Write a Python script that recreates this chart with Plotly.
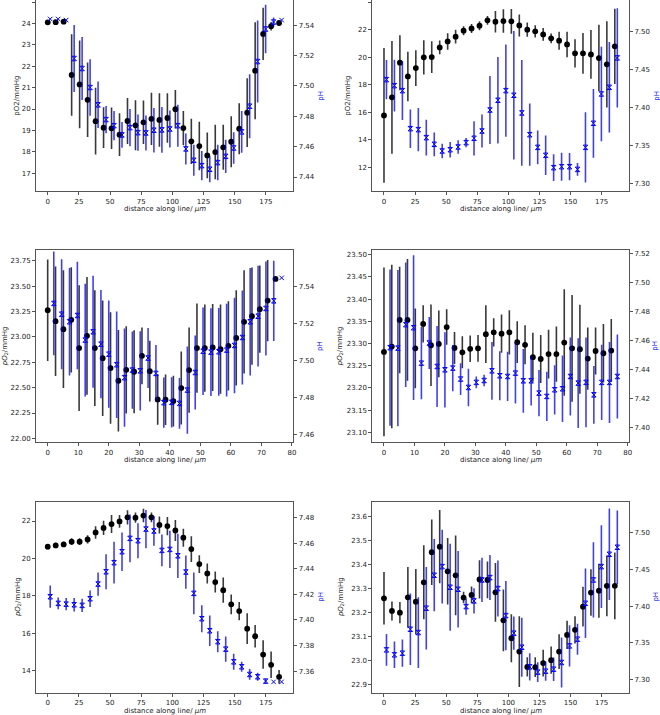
import plotly.graph_objects as go

W, H = 660, 715

# distances along the line (um) for the two line lengths
dist_long = [0, 6.4, 12.8, 19.2, 25.6, 32.0, 38.4, 44.8, 51.2, 57.6, 64.0, 70.4, 76.8, 83.2, 89.6,
             96.0, 102.4, 108.8, 115.2, 121.6, 128.0, 134.4, 140.8, 147.2, 153.6, 160.0, 166.4, 172.8, 179.2, 185.6]
dist_short = [0, 2.57, 5.15, 7.72, 10.29, 12.87, 15.44, 18.01, 20.59, 23.16, 25.73, 28.31, 30.88, 33.45, 36.03,
              38.6, 41.17, 43.75, 46.32, 48.89, 51.47, 54.04, 56.61, 59.19, 61.76, 64.33, 66.91, 69.48, 72.05, 74.63]
ph_shift = 2.0

# panel a (top left)
po2_a = [24.05, 24.06, 24.08, 21.59, 21.15, 20.43, 19.43, 19.13, 19.10, 18.80, 19.44, 19.24, 19.38, 19.54, 19.49,
         19.58, 19.99, 19.11, 18.49, 18.27, 17.83, 17.99, 18.21, 18.47, 19.08, 19.83, 21.79, 23.51, 23.87, 24.02]
po2_a_err = [0, 0, 0, 1.9, 2.05, 1.74, 1.56, 0.95, 0.97, 1.0, 1.08, 1.17, 1.02, 1.22, 1.25,
             1.16, 0.9, 0.8, 1.06, 1.13, 1.07, 1.27, 1.05, 1.19, 1.19, 1.61, 2.27, 1.22, 0.2, 0]
ph_a = [7.544, 7.544, 7.5433, 7.518, 7.5114, 7.4989, 7.4875, 7.4778, 7.4738, 7.4677, 7.4725, 7.4692, 7.469, 7.4708, 7.471,
        7.4716, 7.4738, 7.4585, 7.451, 7.4475, 7.4451, 7.4495, 7.4536, 7.4591, 7.4697, 7.4866, 7.516, 7.5374, 7.542, 7.5433]
ph_a_err = [0, 0, 0, 0.022, 0.0207, 0.0186, 0.0153, 0.009, 0.0096, 0.0085, 0.0122, 0.0119, 0.0115, 0.0147, 0.015,
            0.0122, 0.0138, 0.0102, 0.0102, 0.0096, 0.0086, 0.0117, 0.011, 0.0104, 0.0138, 0.0211, 0.027, 0.016, 0.003, 0]

# panel b (top right)
po2_b = [15.76, 17.07, 19.59, 18.59, 19.2, 19.98, 20.0, 20.7, 21.14, 21.48, 21.92, 22.08, 22.28, 22.67, 22.57,
         22.62, 22.6, 22.3, 21.99, 21.87, 21.65, 21.36, 21.19, 20.92, 20.27, 20.27, 20.19, 19.93, 19.47, 20.78]
po2_b_err = [4.9, 4.1, 2.0, 1.8, 1.3, 1.25, 1.15, 0.5, 0.6, 0.5, 0.33, 0.33, 0.33, 0.32, 0.78,
             0.85, 0.9, 0.8, 0.52, 0.45, 0.46, 0.36, 0.65, 0.93, 1.03, 1.48, 1.77, 2.42, 3.14, 2.73]
ph_b = [7.4371, 7.4292, 7.4226, 7.3725, 7.3712, 7.3607, 7.3519, 7.3431, 7.3448, 7.3484, 7.3541, 7.3598, 7.3694, 7.3971, 7.4099,
        7.4226, 7.4165, 7.3932, 7.3646, 7.3479, 7.3374, 7.3211, 7.3224, 7.3224, 7.3189, 7.3479, 7.3796, 7.4182, 7.427, 7.4657]
ph_b_err = [0.0257, 0.034, 0.0387, 0.0253, 0.0284, 0.0237, 0.0156, 0.0097, 0.0103, 0.009, 0.006, 0.0226, 0.0218, 0.0448, 0.057,
            0.0607, 0.0846, 0.0697, 0.0409, 0.0222, 0.026, 0.0176, 0.0185, 0.018, 0.0084, 0.0462, 0.0453, 0.0622, 0.0596, 0.0653]

# panel c (middle left)
po2_c = [23.264, 23.156, 23.077, 23.169, 22.89, 23.011, 22.89, 22.791, 22.693, 22.568, 22.676, 22.657, 22.814, 22.663, 22.384,
         22.381, 22.368, 22.496, 22.673, 22.89, 22.89, 22.896, 22.88, 22.913, 22.991, 23.149, 23.205, 23.274, 23.359, 23.573]
po2_c_err = [0.5, 0.54, 0.58, 0.52, 0.62, 0.58, 0.57, 0.57, 0.55, 0.5, 0.43, 0.41, 0.28, 0.3, 0.25,
             0.25, 0.25, 0.36, 0.42, 0.44, 0.43, 0.43, 0.44, 0.44, 0.47, 0.51, 0.48, 0.43, 0.4, 0]
ph_c = [7.5307, 7.5249, 7.5208, 7.5242, 7.5109, 7.5154, 7.5087, 7.5033, 7.4976, 7.4906, 7.4947, 7.4943, 7.5012, 7.4929, 7.4771,
        7.4773, 7.4767, 7.4839, 7.4934, 7.5049, 7.5044, 7.5046, 7.5055, 7.508, 7.5123, 7.5208, 7.5238, 7.528, 7.5321, 7.5445]
ph_c_err = [0.028, 0.0297, 0.029, 0.029, 0.0304, 0.0302, 0.0292, 0.029, 0.0288, 0.0265, 0.0209, 0.0214, 0.0162, 0.0153, 0.0136,
            0.0136, 0.0137, 0.0236, 0.02, 0.0236, 0.0237, 0.0237, 0.025, 0.0258, 0.0254, 0.029, 0.0272, 0.0254, 0.0217, 0]

# panel d (middle right)
po2_d = [23.281, 23.293, 23.353, 23.353, 23.289, 23.344, 23.296, 23.299, 23.337, 23.29, 23.28, 23.288, 23.289, 23.321, 23.325,
         23.322, 23.325, 23.303, 23.297, 23.269, 23.265, 23.276, 23.276, 23.302, 23.289, 23.287, 23.266, 23.283, 23.278, 23.284]
po2_d_err = [0.19, 0.184, 0.12, 0.137, 0.09, 0.042, 0.092, 0.075, 0.04, 0.036, 0.036, 0.03, 0.03, 0.065, 0.032,
             0.043, 0.05, 0.047, 0.044, 0.055, 0.054, 0.055, 0.062, 0.12, 0.12, 0.1, 0.07, 0.053, 0.066, 0.071]
ph_d = [7.4552, 7.4549, 7.4711, 7.469, 7.4445, 7.4584, 7.4422, 7.4399, 7.4411, 7.4335, 7.4277, 7.4312, 7.4325, 7.4392, 7.4358,
        7.4353, 7.4376, 7.4323, 7.4323, 7.4238, 7.4215, 7.4261, 7.4268, 7.4353, 7.4307, 7.4312, 7.4226, 7.4312, 7.4312, 7.4353]
ph_d_err = [0.054, 0.054, 0.043, 0.05, 0.025, 0.018, 0.028, 0.026, 0.016, 0.011, 0.013, 0.004, 0.004, 0.02, 0.017,
            0.017, 0.021, 0.022, 0.017, 0.016, 0.017, 0.017, 0.023, 0.027, 0.031, 0.031, 0.02, 0.026, 0.028, 0.029]

# panel e (bottom left)
po2_e = [20.63, 20.70, 20.75, 20.90, 20.90, 21.02, 21.39, 21.63, 21.84, 21.98, 22.20, 22.18, 22.29, 22.20, 21.79,
         21.73, 21.50, 21.11, 20.50, 19.70, 19.20, 18.74, 18.31, 17.55, 17.19, 16.25, 15.85, 14.87, 14.32, 13.68]
po2_e_err = [0.14, 0.14, 0.14, 0.18, 0.18, 0.22, 0.33, 0.38, 0.48, 0.34, 0.38, 0.27, 0.36, 0.26, 0.45,
             0.49, 0.56, 0.48, 0.69, 0.47, 0.53, 0.56, 0.67, 0.53, 0.49, 0.82, 0.6, 0.76, 0.71, 0.37]
ph_e = [7.4182, 7.413, 7.4124, 7.4119, 7.4114, 7.4166, 7.4281, 7.4377, 7.4448, 7.4534, 7.4638, 7.462, 7.4711, 7.4696, 7.4544,
        7.4552, 7.4502, 7.4375, 7.4208, 7.401, 7.3916, 7.383, 7.3772, 7.3673, 7.3634, 7.3574, 7.3556, 7.3522, 7.3516, 7.3516]
ph_e_err = [0.0087, 0.0046, 0.0048, 0.0052, 0.0052, 0.0065, 0.0091, 0.0137, 0.0163, 0.015, 0.0187, 0.0137, 0.015, 0.0115, 0.0124,
            0.0145, 0.0173, 0.013, 0.0164, 0.0106, 0.0119, 0.0082, 0.0098, 0.0063, 0.0039, 0.0042, 0.0031, 0.0018, 0, 0]

# panel f (bottom right)
po2_f = [23.259, 23.206, 23.199, 23.263, 23.245, 23.326, 23.452, 23.475, 23.372, 23.355, 23.262, 23.273, 23.338, 23.336, 23.284,
         23.167, 23.092, 23.036, 22.972, 22.971, 22.988, 23.0, 23.036, 23.106, 23.127, 23.224, 23.283, 23.291, 23.311, 23.311]
po2_f_err = [0.11, 0.04, 0.044, 0.127, 0.137, 0.155, 0.137, 0.153, 0.139, 0.167, 0.024, 0.035, 0.08, 0.077, 0.123,
             0.129, 0.1, 0.148, 0.04, 0.041, 0.056, 0.057, 0.073, 0.059, 0.057, 0.083, 0.097, 0.113, 0.127, 0.14]
ph_f = [7.3406, 7.3339, 7.3361, 7.3686, 7.3641, 7.3971, 7.4418, 7.4535, 7.4255, 7.4228, 7.3993, 7.407, 7.4354, 7.4386, 7.4237,
        7.3871, 7.3632, 7.3442, 7.3176, 7.3104, 7.3117, 7.3144, 7.3235, 7.346, 7.3551, 7.4038, 7.4354, 7.4535, 7.4702, 7.4797]
ph_f_err = [0.0214, 0.018, 0.0185, 0.0485, 0.048, 0.056, 0.049, 0.05, 0.059, 0.052, 0.011, 0.017, 0.03, 0.0305, 0.038,
            0.047, 0.0226, 0.04, 0.0185, 0.0133, 0.0131, 0.016, 0.034, 0.028, 0.021, 0.047, 0.051, 0.056, 0.062, 0.05]

ticks_long = [0, 25, 50, 75, 100, 125, 150, 175]
ticks_short = [0, 10, 20, 30, 40, 50, 60, 70, 80]

x_title = 'distance along line/ <i>μm</i>'
y_plain = 'pO2/mmHg'
y_math = '<i>pO</i><sub>2</sub>/mmHg'

# pixel boxes of the six axes: left, right, top, bottom
col_px = [(36, 293.3), (372.3, 629)]
row_px = [(0, 191.3), (250.3, 442.3), (501.7, 692.5)]

panels = [
  dict(x=dist_long, po2=po2_a, po2e=po2_a_err, ph=ph_a, phe=ph_a_err, r=0, c=0, ylab=y_plain,
       xr=[-9.4, 197], yl=[16.155, 25.094], yr=[7.4306, 7.5565], xt=ticks_long,
       lt=[17, 18, 19, 20, 21, 22, 23, 24, 25], lf='d', rt=[7.44, 7.46, 7.48, 7.50, 7.52, 7.54], ltx=17, rtx=321),
  dict(x=dist_long, po2=po2_b, po2e=po2_b_err, ph=ph_b, phe=ph_b_err, r=0, c=1, ylab=y_plain,
       xr=[-9.4, 197], yl=[10.24, 24.15], yr=[7.29, 7.542], xt=ticks_long,
       lt=[12, 14, 16, 18, 20, 22, 24], lf='d', rt=[7.30, 7.35, 7.40, 7.45, 7.50], ltx=348, rtx=657),
  dict(x=dist_short, po2=po2_c, po2e=po2_c_err, ph=ph_c, phe=ph_c_err, r=1, c=0, ylab=y_math,
       xr=[-3.83, 80.45], yl=[21.961, 23.855], yr=[7.4557, 7.5594], xt=ticks_short,
       lt=[22.0, 22.25, 22.5, 22.75, 23.0, 23.25, 23.5, 23.75], lf='.2f', rt=[7.46, 7.48, 7.50, 7.52, 7.54], ltx=5, rtx=320.7),
  dict(x=dist_short, po2=po2_d, po2e=po2_d_err, ph=ph_d, phe=ph_d_err, r=1, c=1, ylab=y_math,
       xr=[-3.83, 80.45], yl=[23.0774, 23.5098], yr=[7.3898, 7.5225], xt=ticks_short,
       lt=[23.1, 23.15, 23.2, 23.25, 23.3, 23.35, 23.4, 23.45, 23.5], lf='.2f', rt=[7.40, 7.42, 7.44, 7.46, 7.48, 7.50, 7.52], ltx=340, rtx=655.5),
  dict(x=dist_long, po2=po2_e, po2e=po2_e_err, ph=ph_e, phe=ph_e_err, r=2, c=0, ylab=y_math,
       xr=[-9.4, 197], yl=[12.842, 23.033], yr=[7.3433, 7.4925], xt=ticks_long,
       lt=[14, 16, 18, 20, 22], lf='d', rt=[7.36, 7.38, 7.40, 7.42, 7.44, 7.46, 7.48], ltx=18, rtx=320.7),
  dict(x=dist_long, po2=po2_f, po2e=po2_f_err, ph=ph_f, phe=ph_f_err, r=2, c=1, ylab=y_math,
       xr=[-9.4, 197], yl=[22.865, 23.663], yr=[7.2828, 7.5415], xt=ticks_long,
       lt=[22.9, 23.0, 23.1, 23.2, 23.3, 23.4, 23.5, 23.6], lf='.1f', rt=[7.30, 7.35, 7.40, 7.45, 7.50], ltx=341, rtx=656.5),
]

font = dict(family='DejaVu Sans', size=7, color='#222')
spine = '#555'

fig = go.Figure()
annotations = []
layout = {}
for i, p in enumerate(panels):
  n = i + 1
  nr = i + 7
  x0, x1 = col_px[p['c']]
  y0, y1 = row_px[p['r']]
  xdom = [x0 / W, x1 / W]
  ydom = [1 - y1 / H, 1 - y0 / H]
  xname = 'x' if n == 1 else 'x%d' % n
  yname = 'y' if n == 1 else 'y%d' % n

  fig.add_trace(go.Scatter(x=p['x'], y=p['po2'], mode='markers', xaxis=xname, yaxis=yname,
                  marker=dict(color='black', size=5.8, symbol='circle'),
                  error_y=dict(type='data', array=p['po2e'], color='rgba(0,0,0,0.78)', thickness=1.6, width=0),
                  showlegend=False))
  ph_x = [d + ph_shift for d in p['x']]
  symbols = ['hourglass-open' if e > 0 else 'x-thin-open' for e in p['phe']]
  fig.add_trace(go.Scatter(x=ph_x, y=p['ph'], mode='markers', xaxis=xname, yaxis='y%d' % nr,
                  marker=dict(color='blue', size=4.5, symbol=symbols, line=dict(color='blue', width=1)),
                  error_y=dict(type='data', array=p['phe'], color='rgba(0,0,235,0.75)', thickness=1.6, width=0),
                  showlegend=False))

  layout['xaxis%d' % n] = dict(domain=xdom, anchor=yname, range=p['xr'], tickmode='array', tickvals=p['xt'],
                  showline=True, mirror=True, linecolor=spine, linewidth=1, ticks='outside', ticklen=3,
                  tickcolor=spine, tickfont=font, showgrid=False, zeroline=False, automargin=False)
  layout['yaxis%d' % n] = dict(domain=ydom, anchor=xname, range=p['yl'], tickmode='array', tickvals=p['lt'],
                  ticktext=[format(v, p['lf']) if p['lf'] != 'd' else str(int(v)) for v in p['lt']],
                  showline=True, mirror=True, linecolor=spine, linewidth=1, ticks='outside', ticklen=3,
                  tickcolor=spine, tickfont=font, showgrid=False, zeroline=False, automargin=False)
  layout['yaxis%d' % nr] = dict(overlaying=yname, anchor=xname, side='right', range=p['yr'], tickmode='array',
                  tickvals=p['rt'], ticktext=['%.2f' % v for v in p['rt']],
                  showline=False, ticks='outside', ticklen=3, tickcolor=spine, tickfont=font,
                  showgrid=False, zeroline=False, automargin=False)

  ymid = (ydom[0] + ydom[1]) / 2
  annotations.append(dict(text=x_title, x=(xdom[0] + xdom[1]) / 2, y=1 - (y1 + 18) / H, xref='paper', yref='paper',
                  showarrow=False, font=font, xanchor='center', yanchor='middle'))
  annotations.append(dict(text=p['ylab'], x=p['ltx'] / W, y=ymid, xref='paper', yref='paper', textangle=-90,
                  showarrow=False, font=font, xanchor='center', yanchor='middle'))
  annotations.append(dict(text='pH', x=p['rtx'] / W, y=ymid, xref='paper', yref='paper', textangle=-90,
                  showarrow=False, font=dict(family='DejaVu Sans', size=7, color='blue'),
                  xanchor='center', yanchor='middle'))

fig.update_layout(**layout)
fig.update_layout(annotations=annotations, width=W, height=H, margin=dict(l=0, r=0, t=0, b=0),
                  plot_bgcolor='white', paper_bgcolor='white', template=None, showlegend=False)
# page body has a default 8px margin; drop it so the figure sits at the window corner
fig.write_html("out.html", config={'displayModeBar': False},
               post_script="document.body.style.margin='0px';")
